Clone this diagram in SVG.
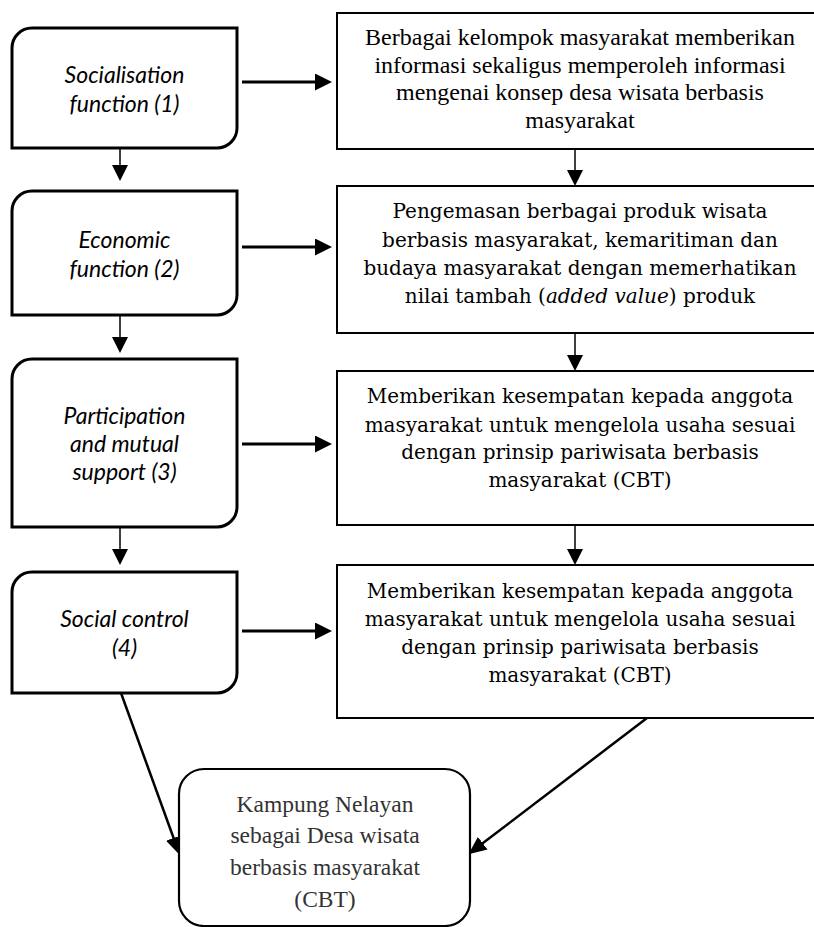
<svg xmlns="http://www.w3.org/2000/svg" width="814" height="927" viewBox="0 0 814 927">
<defs>
<style>
.lbox{fill:#fff;stroke:#000;stroke-width:3}
.rbox{fill:#fff;stroke:#000;stroke-width:2}
.fbox{fill:#fff;stroke:#000;stroke-width:2.2}
.lt{font-family:Lato,"Open Sans",sans-serif;font-style:italic;font-size:23px;fill:#000;text-anchor:middle}
.rt1{font-family:"Liberation Serif","Times New Roman",serif;font-size:24px;fill:#000;text-anchor:middle}
.rt{font-family:"DejaVu Serif",serif;font-size:20px;fill:#000;text-anchor:middle}
.ft{font-family:"Liberation Serif","Times New Roman",serif;font-size:23.5px;fill:#333;text-anchor:middle}
.thin{stroke:#000;stroke-width:1.5;fill:none}
.thick{stroke:#000;stroke-width:3;fill:none}
.diag{stroke:#000;stroke-width:2.5;fill:none}
</style>
<marker id="aThin" markerUnits="userSpaceOnUse" markerWidth="16" markerHeight="16" refX="8" refY="8" orient="auto">
<path d="M0,0 L16,8 L0,16 Z" fill="#000"/>
</marker>
<marker id="aThick" markerUnits="userSpaceOnUse" markerWidth="17" markerHeight="17" refX="8" refY="8.5" orient="auto">
<path d="M0,0 L17,8.5 L0,17 Z" fill="#000"/>
</marker>
<marker id="aDiag" markerUnits="userSpaceOnUse" markerWidth="18" markerHeight="16" refX="8" refY="8" orient="auto">
<path d="M0,0 L18,8 L0,16 Z" fill="#000"/>
</marker>
</defs>
<rect width="814" height="927" fill="#fff"/>

<g id="connectors">
<line class="thin" x1="120" y1="148" x2="120" y2="173" marker-end="url(#aThin)"/>
<line class="thin" x1="120" y1="315" x2="120" y2="345" marker-end="url(#aThin)"/>
<line class="thin" x1="120" y1="527" x2="120" y2="557" marker-end="url(#aThin)"/>
<line class="thin" x1="575" y1="149" x2="575" y2="178" marker-end="url(#aThin)"/>
<line class="thin" x1="575" y1="333" x2="575" y2="363" marker-end="url(#aThin)"/>
<line class="thin" x1="575" y1="525" x2="575" y2="557" marker-end="url(#aThin)"/>
<line class="thick" x1="242" y1="82" x2="323" y2="82" marker-end="url(#aThick)"/>
<line class="thick" x1="242" y1="247" x2="323" y2="247" marker-end="url(#aThick)"/>
<line class="thick" x1="242" y1="444" x2="323" y2="444" marker-end="url(#aThick)"/>
<line class="thick" x1="242" y1="631" x2="323" y2="631" marker-end="url(#aThick)"/>
<line class="diag" x1="121" y1="693" x2="176.3" y2="845.5" marker-end="url(#aDiag)"/>
<line class="diag" x1="647" y1="718" x2="476.4" y2="848.1" marker-end="url(#aDiag)"/>
</g>

<g id="n1">
<path class="lbox" d="M12,48 A20,20 0 0 1 32,28 H237 V128 A20,20 0 0 1 217,148 H12 Z"/>
<text class="lt" x="124.5" y="83">Socialisation</text>
<text class="lt" x="124.5" y="112">function (1)</text>
</g>
<g id="n2">
<path class="lbox" d="M12,211 A20,20 0 0 1 32,191 H237 V295 A20,20 0 0 1 217,315 H12 Z"/>
<text class="lt" x="124.5" y="248">Economic</text>
<text class="lt" x="124.5" y="277">function (2)</text>
</g>
<g id="n3">
<path class="lbox" d="M12,379 A20,20 0 0 1 32,359 H237 V507 A20,20 0 0 1 217,527 H12 Z"/>
<text class="lt" x="124.5" y="424">Participation</text>
<text class="lt" x="124.5" y="452">and mutual</text>
<text class="lt" x="124.5" y="480">support (3)</text>
</g>
<g id="n4">
<path class="lbox" d="M12,592 A20,20 0 0 1 32,572 H237 V673 A20,20 0 0 1 217,693 H12 Z"/>
<text class="lt" x="124.5" y="627">Social control</text>
<text class="lt" x="124.5" y="656">(4)</text>
</g>

<g id="r1">
<rect class="rbox" x="337" y="13" width="486" height="136"/>
<text class="rt1" x="580" y="45">Berbagai kelompok masyarakat memberikan</text>
<text class="rt1" x="580" y="73">informasi sekaligus memperoleh informasi</text>
<text class="rt1" x="580" y="100">mengenai konsep desa wisata berbasis</text>
<text class="rt1" x="580" y="128">masyarakat</text>
</g>
<g id="r2">
<rect class="rbox" x="337" y="186" width="486" height="147"/>
<text class="rt" x="580" y="218">Pengemasan berbagai produk wisata</text>
<text class="rt" x="580" y="247">berbasis masyarakat, kemaritiman dan</text>
<text class="rt" x="580" y="275">budaya masyarakat dengan memerhatikan</text>
<text class="rt" x="580" y="303">nilai tambah (<tspan font-style="italic">added value</tspan>) produk</text>
</g>
<g id="r3">
<rect class="rbox" x="337" y="371" width="486" height="154"/>
<text class="rt" x="580" y="403">Memberikan kesempatan kepada anggota</text>
<text class="rt" x="580" y="432">masyarakat untuk mengelola usaha sesuai</text>
<text class="rt" x="580" y="459">dengan prinsip pariwisata berbasis</text>
<text class="rt" x="580" y="487">masyarakat (CBT)</text>
</g>
<g id="r4">
<rect class="rbox" x="337" y="565" width="486" height="153"/>
<text class="rt" x="580" y="598">Memberikan kesempatan kepada anggota</text>
<text class="rt" x="580" y="626">masyarakat untuk mengelola usaha sesuai</text>
<text class="rt" x="580" y="654">dengan prinsip pariwisata berbasis</text>
<text class="rt" x="580" y="682">masyarakat (CBT)</text>
</g>

<g id="n5">
<rect class="fbox" x="179" y="769" width="291" height="157" rx="25" ry="25"/>
<text class="ft" x="325" y="812">Kampung Nelayan</text>
<text class="ft" x="325" y="843">sebagai Desa wisata</text>
<text class="ft" x="325" y="875">berbasis masyarakat</text>
<text class="ft" x="325" y="907">(CBT)</text>
</g>
</svg>
